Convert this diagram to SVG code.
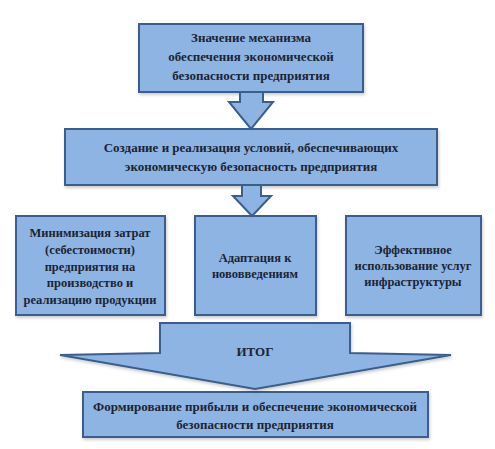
<svg xmlns="http://www.w3.org/2000/svg" width="495" height="449" viewBox="0 0 495 449">
<defs>
<style>
.b{fill:#8EB4E3;stroke:#3B5F8C;stroke-width:2}
.t{font-family:"Liberation Serif","Times New Roman",serif;font-weight:bold;font-size:13px;fill:#1C2433;text-anchor:middle}
.s{font-size:12.5px}
</style>
<filter id="sh" x="-10%" y="-10%" width="120%" height="130%">
<feDropShadow dx="1" dy="2" stdDeviation="1.5" flood-color="#000" flood-opacity="0.2"/>
</filter>
</defs>
<rect width="495" height="449" fill="#fff"/>
<g id="n1"><rect class="b" filter="url(#sh)" x="139" y="24" width="224" height="68"/>
<text class="t"><tspan x="251" y="42">Значение механизма</tspan><tspan x="251" y="61">обеспечения экономической</tspan><tspan x="251" y="80">безопасности предприятия</tspan></text></g>
<g id="n2"><rect class="b" filter="url(#sh)" x="65" y="129" width="372" height="56"/>
<text class="t"><tspan x="251" y="152">Создание и реализация условий, обеспечивающих</tspan><tspan x="251" y="171">экономическую безопасность предприятия</tspan></text></g>
<g id="n3"><rect class="b" filter="url(#sh)" x="16" y="216" width="149" height="99"/>
<text class="t s"><tspan x="90" y="237">Минимизация  затрат</tspan><tspan x="90" y="254">(себестоимости)</tspan><tspan x="90" y="271">предприятия  на</tspan><tspan x="90" y="287">производство и</tspan><tspan x="90" y="304">реализацию продукции</tspan></text></g>
<g id="n4"><rect class="b" filter="url(#sh)" x="195" y="216" width="121" height="99"/>
<text class="t s"><tspan x="255" y="262">Адаптация к</tspan><tspan x="255" y="278">нововведениям</tspan></text></g>
<g id="n5"><rect class="b" filter="url(#sh)" x="346" y="216" width="135" height="99"/>
<text class="t s"><tspan x="413" y="254">Эффективное</tspan><tspan x="413" y="270">использование услуг</tspan><tspan x="413" y="286">инфраструктуры</tspan></text></g>
<g id="n6"><rect class="b" filter="url(#sh)" x="83" y="392" width="345" height="45"/>
<text class="t"><tspan x="255" y="411">Формирование прибыли и обеспечение экономической</tspan><tspan x="255" y="429">безопасности предприятия</tspan></text></g>
<g id="connectors">
<polygon class="b" points="240,92 263,92 263,102 273,102 251,129 229,102 240,102"/>
<polygon class="b" points="242,185 261,185 261,196 271,196 252,216 233,196 242,196"/>
<g id="itog"><polygon class="b" filter="url(#sh)" points="160,323 350,323 350,353 451,355 255,389 60,355 160,353"/>
<text class="t" x="255" y="356">ИТОГ</text></g>
</g>
</svg>
